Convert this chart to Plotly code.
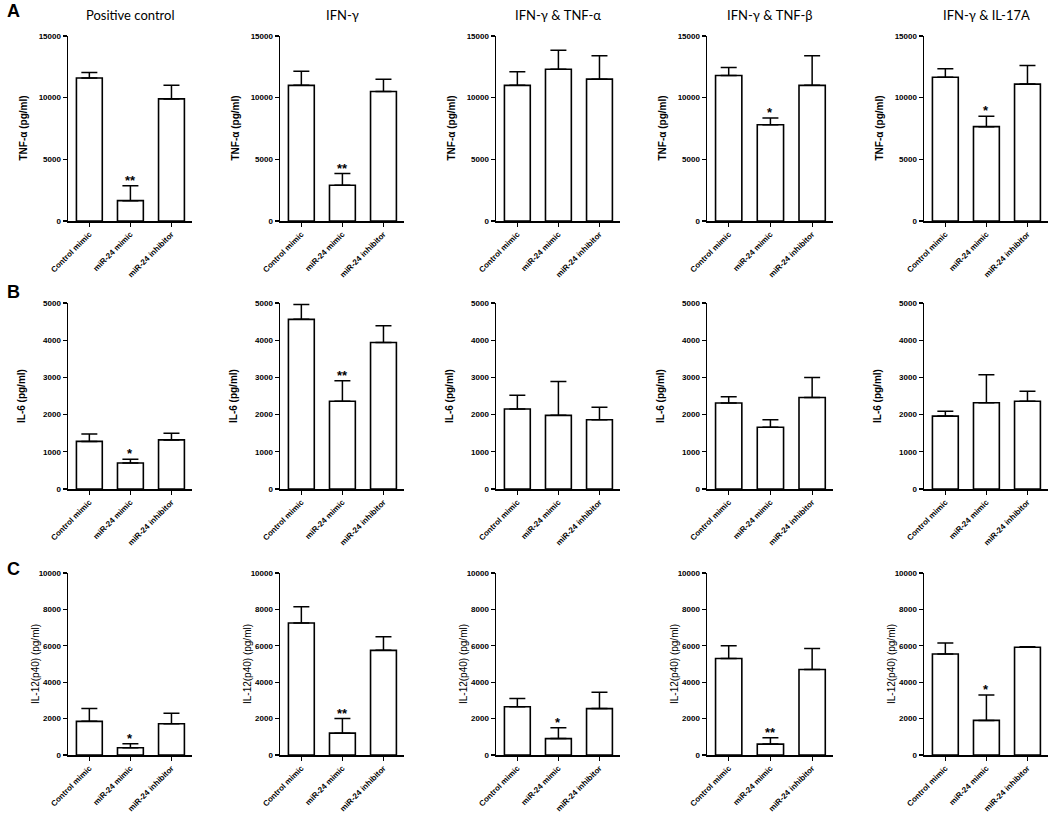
import plotly.graph_objects as go

categories = ["Control mimic", "miR-24 mimic", "miR-24 inhibitor"]
titles = ["Positive control", "IFN-γ", "IFN-γ & TNF-α", "IFN-γ & TNF-β", "IFN-γ & IL-17A"]
panel_letters = ["A", "B", "C"]
ytitles = ["TNF-α (pg/ml)", "IL-6 (pg/ml)", "IL-12(p40) (pg/ml)"]

tnf_means = [[11600, 1650, 9900], [11000, 2900, 10500], [11000, 12300, 11500],
             [11800, 7800, 11000], [11650, 7650, 11100]]
tnf_sem = [[450, 1200, 1100], [1150, 950, 1000], [1100, 1550, 1900],
           [650, 550, 2400], [700, 850, 1500]]
tnf_stars = ["**", "**", "", "*", "*"]

il6_means = [[1280, 700, 1320], [4560, 2360, 3940], [2150, 1980, 1860],
             [2310, 1660, 2460], [1960, 2320, 2360]]
il6_sem = [[200, 100, 180], [400, 550, 450], [370, 910, 340],
           [170, 200, 540], [130, 750, 270]]
il6_stars = ["*", "**", "", "", ""]

il12_means = [[1850, 400, 1720], [7250, 1200, 5750], [2650, 900, 2550],
              [5300, 600, 4700], [5550, 1900, 5920]]
il12_sem = [[700, 220, 580], [900, 800, 750], [450, 600, 900],
            [700, 350, 1150], [600, 1400, 30]]
il12_stars = ["*", "**", "*", "**", "*"]

ytick_sets = [[0, 5000, 10000, 15000], [0, 1000, 2000, 3000, 4000, 5000],
              [0, 2000, 4000, 6000, 8000, 10000]]

means = [tnf_means, il6_means, il12_means]
sems = [tnf_sem, il6_sem, il12_sem]
stars = [tnf_stars, il6_stars, il12_stars]

W, H = 1050, 814
xpx = [(68, 192), (280, 404), (496, 620), (707, 833), (924, 1048)]
ypx = [(36, 221), (303, 489), (573, 755)]
ytitle_off = [45, 47, 33]
ytitle_bold = ["bold", "bold", "normal"]

fig = go.Figure()
layout = {}
annotations = []
tickfont = dict(family="Liberation Sans, Arial", size=8, color="black", weight="bold")
xtickfont = dict(family="Liberation Sans, Arial", size=8, color="black", weight="bold")

for r in range(3):
    for c in range(5):
        idx = r * 5 + c + 1
        xa = "x" if idx == 1 else f"x{idx}"
        ya = "y" if idx == 1 else f"y{idx}"
        xk = "xaxis" if idx == 1 else f"xaxis{idx}"
        yk = "yaxis" if idx == 1 else f"yaxis{idx}"
        fig.add_trace(go.Bar(
            x=[0, 1, 2], y=means[r][c], width=0.63,
            marker=dict(color="white", line=dict(color="black", width=1.6)),
            error_y=dict(type="data", symmetric=False, array=sems[r][c],
                         arrayminus=[0, 0, 0], color="black", thickness=1.5, width=8),
            xaxis=xa, yaxis=ya, showlegend=False, hoverinfo="skip"))
        x0, x1 = xpx[c]
        y0, y1 = ypx[r]
        layout[xk] = dict(domain=[x0 / W, x1 / W], anchor=ya, range=[-0.52, 2.5],
                          tickvals=[0, 1, 2], ticktext=categories, tickangle=-45,
                          showline=True, linecolor="black", linewidth=1.5,
                          ticks="outside", ticklen=4, tickwidth=1.2, tickcolor="black",
                          tickfont=xtickfont, showgrid=False, zeroline=False,
                          automargin=False)
        yt = ytick_sets[r]
        layout[yk] = dict(domain=[1 - y1 / H, 1 - y0 / H], anchor=xa, range=[0, yt[-1]],
                          tickvals=yt, ticktext=[str(v) for v in yt],
                          showline=True, linecolor="black", linewidth=1.5,
                          ticks="outside", ticklen=4, tickwidth=1.2, tickcolor="black",
                          tickfont=tickfont, showgrid=False, zeroline=False,
                          automargin=False)
        annotations.append(dict(
            x=(x0 - ytitle_off[r]) / W, y=1 - (y0 + y1) / 2 / H, xref="paper", yref="paper",
            text=ytitles[r], textangle=-90, showarrow=False, xanchor="center", yanchor="middle",
            font=dict(family="Liberation Sans, Arial", size=10, color="black",
                      weight=ytitle_bold[r])))
        s = stars[r][c]
        if s:
            annotations.append(dict(
                x=1, y=means[r][c][1] + sems[r][c][1], xref=xa, yref=ya, text=s,
                showarrow=False, xanchor="center", yanchor="bottom", yshift=-4,
                font=dict(family="Liberation Sans, Arial", size=13, color="black", weight="bold")))
        if r == 0:
            annotations.append(dict(
                x=(x0 + x1) / 2 / W, y=1 - 15 / H, xref="paper", yref="paper", text=titles[c],
                showarrow=False, xanchor="center", yanchor="middle",
                font=dict(family="Lato, Open Sans", size=13, color="black")))

letter_y = [11, 292, 569]
for r in range(3):
    annotations.append(dict(
        x=5 / W, y=1 - letter_y[r] / H, xref="paper", yref="paper", text=panel_letters[r],
        showarrow=False, xanchor="left", yanchor="middle",
        font=dict(family="Liberation Sans, Arial", size=18, color="black", weight="bold")))

fig.update_layout(**layout)
fig.update_layout(template="none", width=W, height=H, margin=dict(l=0, r=0, t=0, b=0),
                  paper_bgcolor="white", plot_bgcolor="white",
                  annotations=annotations, bargap=0)
fig.write_html("out.html", config={"displayModeBar": False, "staticPlot": True},
               post_script="document.body.style.margin='0';document.body.style.overflow='hidden';")
